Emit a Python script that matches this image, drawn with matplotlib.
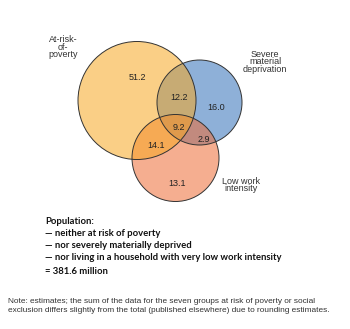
import matplotlib.pyplot as plt
from matplotlib.patches import Circle

# region values (million persons)
region_values = [51.2, 12.2, 16.0, 9.2, 2.9, 14.1, 13.1]
region_xy = [(137, 77), (179, 98), (216, 108), (179, 127), (204, 139), (156, 145), (177, 183)]

set_names = ["At-risk-\nof-\npoverty", "Severe\nmaterial\ndeprivation", "Low work\nintensity"]
set_label_xy = [(63, 47), (265, 62), (241, 185)]

# circles drawn in this order: blue, salmon, yellow on top
circles = [
    ((199.5, 102.5), 42.5, "#316FB8"),
    ((175.5, 158.0), 43.5, "#ED6C35"),
    ((137.0, 100.5), 59.0, "#F7A823"),
]

pop_lines = ["Population:",
             "\u2014 neither at risk of poverty",
             "\u2014 nor severely materially deprived",
             "\u2014 nor living in a household with very low work intensity",
             "= 381.6 million"]
pop_y = [222, 234, 246, 258, 271]

note = ("Note: estimates; the sum of the data for the seven groups at risk of poverty or social\n"
        "exclusion differs slightly from the total (published elsewhere) due to rounding estimates.")

fig = plt.figure(figsize=(3.5, 3.29), dpi=100)
ax = fig.add_axes([0, 0, 1, 1])
ax.set_xlim(0, 350)
ax.set_ylim(329, 0)
ax.set_aspect("equal")
ax.axis("off")

for (c, r, col) in circles:
    ax.add_patch(Circle(c, r, facecolor=col, alpha=0.55, edgecolor="none"))
for (c, r, col) in circles:
    ax.add_patch(Circle(c, r, facecolor="none", edgecolor="#333333", lw=0.7))

for v, (x, y) in zip(region_values, region_xy):
    ax.text(x, y, f"{v:.1f}", ha="center", va="center", fontsize=6.5,
            family="Liberation Sans", color="#222222")

for name, (x, y) in zip(set_names, set_label_xy):
    ax.text(x, y, name, ha="center", va="center", fontsize=6.5,
            family="Liberation Sans", color="#333333", linespacing=0.85)

for line, y in zip(pop_lines, pop_y):
    ax.text(45, y, line, ha="left", va="center", fontsize=6.8,
            family="Lato", weight="bold", color="#111111")

ax.text(8, 306, note, ha="left", va="center", fontsize=5.95,
        family="Liberation Sans", color="#333333", linespacing=1.25)

fig.savefig("out.png", dpi=100)
